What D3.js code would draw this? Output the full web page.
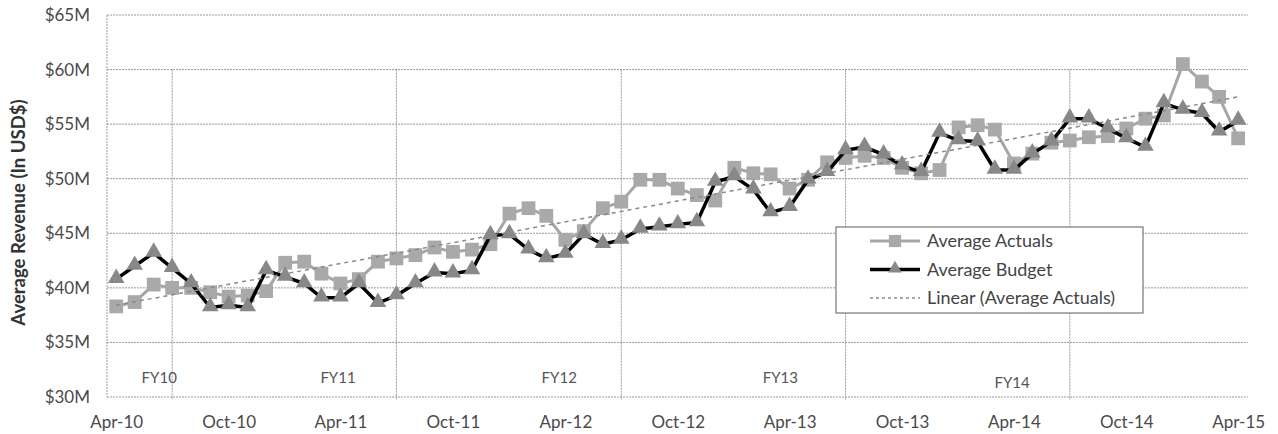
<!DOCTYPE html>
<html>
<head>
<meta charset="utf-8">
<script src="https://cdn.jsdelivr.net/npm/d3@7"></script>
<style>
  body { margin: 0; background: #fff; }
  text { font-family: Lato, "Noto Sans", sans-serif; fill: #4a4a4a; }
</style>
</head>
<body>
<div id="chart"></div>
<script>
// Monthly averages, Apr-10 .. Apr-15 ($M)
var averageActuals = [
  38.3, 38.7, 40.3, 40.0, 40.0, 39.6, 39.2, 39.3, 39.7, 42.3, 42.4, 41.3,
  40.4, 40.8, 42.4, 42.7, 43.0, 43.7, 43.3, 43.5, 44.0, 46.8, 47.3, 46.6,
  44.4, 45.2, 47.3, 47.9, 49.9, 49.9, 49.1, 48.5, 48.0, 51.0, 50.5, 50.4,
  49.1, 49.9, 51.5, 51.9, 52.1, 51.9, 51.0, 50.5, 50.8, 54.7, 54.9, 54.5,
  51.4, 52.3, 53.3, 53.5, 53.8, 53.9, 54.6, 55.5, 55.8, 60.5, 58.9, 57.5,
  53.7
];
var averageBudget = [
  40.8, 42.0, 43.2, 41.8, 40.4, 38.2, 38.4, 38.2, 41.6, 41.0, 40.4, 39.1,
  39.1, 40.4, 38.6, 39.3, 40.4, 41.4, 41.3, 41.6, 44.8, 44.9, 43.5, 42.7,
  43.1, 44.9, 44.0, 44.4, 45.4, 45.6, 45.8, 46.0, 49.7, 50.2, 49.0, 46.9,
  47.4, 49.9, 50.6, 52.6, 52.9, 52.2, 51.2, 50.6, 54.2, 53.5, 53.4, 50.8,
  50.8, 52.3, 53.4, 55.5, 55.5, 54.6, 53.7, 52.9, 56.9, 56.3, 56.0, 54.3,
  55.3
];
var months = d3.timeMonth.range(new Date(2010, 3, 1), new Date(2015, 4, 1));

var xTickDates = [
  new Date(2010, 3, 1), new Date(2010, 9, 1), new Date(2011, 3, 1), new Date(2011, 9, 1),
  new Date(2012, 3, 1), new Date(2012, 9, 1), new Date(2013, 3, 1), new Date(2013, 9, 1),
  new Date(2014, 3, 1), new Date(2014, 9, 1), new Date(2015, 3, 1)
];
var xTickLabels = ["Apr-10", "Oct-10", "Apr-11", "Oct-11", "Apr-12", "Oct-12",
                   "Apr-13", "Oct-13", "Apr-14", "Oct-14", "Apr-15"];
var yTickValues = [30, 35, 40, 45, 50, 55, 60, 65];
var yTickLabels = ["$30M", "$35M", "$40M", "$45M", "$50M", "$55M", "$60M", "$65M"];

// fiscal year boundaries (July) and labels
var fyStarts = [new Date(2010, 6, 1), new Date(2011, 6, 1), new Date(2012, 6, 1),
                new Date(2013, 6, 1), new Date(2014, 6, 1)];
var fyLabels = ["FY10", "FY11", "FY12", "FY13", "FY14"];
var fyLabelDates = [new Date(2010, 5, 10), new Date(2011, 2, 28), new Date(2012, 2, 22),
                    new Date(2013, 2, 17), new Date(2014, 2, 29)];
var fyLabelLevel = [31.75, 31.75, 31.8, 31.8, 31.35];

var legendLabels = ["Average Actuals", "Average Budget", "Linear (Average Actuals)"];

var svgWidth = 1278;
var svgHeight = 434;
var margin = { top: 15, right: 30, bottom: 37, left: 107 };
var width = svgWidth - margin.left - margin.right;
var height = svgHeight - margin.top - margin.bottom;

var svg = d3.select("#chart")
  .append("svg")
  .attr("width", svgWidth)
  .attr("height", svgHeight);

var chartGroup = svg.append("g")
  .attr("transform", `translate(${margin.left}, ${margin.top})`);

var xScale = d3.scaleTime()
  .domain([new Date(2010, 2, 17), new Date(2015, 3, 17)])
  .range([0, width]);

var yScale = d3.scaleLinear()
  .domain([30, 65])
  .range([height, 0]);

// horizontal gridlines
chartGroup.append("g")
  .selectAll("line")
  .data(yTickValues)
  .enter()
  .append("line")
  .attr("x1", 0)
  .attr("x2", width)
  .attr("y1", d => yScale(d))
  .attr("y2", d => yScale(d))
  .attr("stroke", "#9a9a9a")
  .attr("stroke-width", 1)
  .attr("stroke-dasharray", "2,1");

// left axis line
chartGroup.append("line")
  .attr("x1", 0).attr("x2", 0)
  .attr("y1", 0).attr("y2", height)
  .attr("stroke", "#9a9a9a")
  .attr("stroke-dasharray", "2,1");

// fiscal year dividers
chartGroup.append("g")
  .selectAll("line")
  .data(fyStarts)
  .enter()
  .append("line")
  .attr("x1", d => xScale(d))
  .attr("x2", d => xScale(d))
  .attr("y1", yScale(60))
  .attr("y2", yScale(30) + 3)
  .attr("stroke", "#9a9a9a")
  .attr("stroke-dasharray", "2,1");

chartGroup.append("g")
  .selectAll("text")
  .data(fyLabels)
  .enter()
  .append("text")
  .attr("x", (d, i) => xScale(fyLabelDates[i]))
  .attr("y", (d, i) => yScale(fyLabelLevel[i]))
  .attr("text-anchor", "middle")
  .attr("dy", "0.35em")
  .style("font-size", "15px")
  .style("fill", "#555")
  .text(d => d);

// axes
var bottomAxis = d3.axisBottom(xScale)
  .tickValues(xTickDates)
  .tickFormat((d, i) => xTickLabels[i])
  .tickSize(0)
  .tickPadding(19);

var leftAxis = d3.axisLeft(yScale)
  .tickValues(yTickValues)
  .tickFormat((d, i) => yTickLabels[i])
  .tickSize(0)
  .tickPadding(17);

var xAxisGroup = chartGroup.append("g")
  .attr("transform", `translate(0, ${height})`)
  .call(bottomAxis);
var yAxisGroup = chartGroup.append("g").call(leftAxis);

[xAxisGroup, yAxisGroup].forEach(function(g) {
  g.select(".domain").remove();
  g.selectAll("text")
    .style("font-family", "Lato, 'Noto Sans', sans-serif")
    .style("font-size", "17px")
    .style("fill", "#4a4a4a");
});

chartGroup.append("text")
  .attr("transform", "rotate(-90)")
  .attr("x", 0 - (yScale(46.9)))
  .attr("y", 0 - margin.left + 19)
  .attr("dy", "0.35em")
  .attr("text-anchor", "middle")
  .style("font-size", "18.5px")
  .style("font-weight", "bold")
  .style("fill", "#333")
  .text("Average Revenue (In USD$)");

// series
var lineGen = d3.line()
  .x(d => xScale(d.date))
  .y(d => yScale(d.value));

var actualsData = months.map((m, i) => ({ date: m, value: averageActuals[i] }));
var budgetData = months.map((m, i) => ({ date: m, value: averageBudget[i] }));

chartGroup.append("path")
  .datum(actualsData)
  .attr("d", lineGen)
  .attr("fill", "none")
  .attr("stroke", "#a6a6a6")
  .attr("stroke-width", 3);

chartGroup.selectAll(".actualMark")
  .data(actualsData)
  .enter()
  .append("path")
  .attr("class", "actualMark")
  .attr("transform", d => `translate(${xScale(d.date)}, ${yScale(d.value)})`)
  .attr("d", d3.symbol().type(d3.symbolSquare).size(190))
  .attr("fill", "#a9a9a9");

chartGroup.append("path")
  .datum(budgetData)
  .attr("d", lineGen)
  .attr("fill", "none")
  .attr("stroke", "#000")
  .attr("stroke-width", 3.5)
  .attr("stroke-linejoin", "round");

chartGroup.selectAll(".budgetMark")
  .data(budgetData)
  .enter()
  .append("path")
  .attr("class", "budgetMark")
  .attr("transform", d => `translate(${xScale(d.date)}, ${yScale(d.value) - 1})`)
  .attr("d", d3.symbol().type(d3.symbolTriangle).size(120))
  .attr("fill", "#888");

// linear trend of actuals (least squares over month index)
var n = averageActuals.length;
var meanX = d3.mean(averageActuals, (d, i) => i);
var meanY = d3.mean(averageActuals);
var slope = d3.sum(averageActuals, (d, i) => (i - meanX) * (d - meanY)) /
            d3.sum(averageActuals, (d, i) => (i - meanX) * (i - meanX));
var intercept = meanY - slope * meanX;
var trendData = [
  { date: months[0], value: intercept },
  { date: months[n - 1], value: intercept + slope * (n - 1) }
];

chartGroup.append("path")
  .datum(trendData)
  .attr("d", lineGen)
  .attr("fill", "none")
  .attr("stroke", "#8a8a8a")
  .attr("stroke-width", 1.5)
  .attr("stroke-dasharray", "4,4");

// legend
var legend = svg.append("g")
  .attr("transform", "translate(836, 227)");

legend.append("rect")
  .attr("width", 307)
  .attr("height", 86)
  .attr("fill", "#fff")
  .attr("stroke", "#777")
  .attr("stroke-width", 1.2);

var rows = legend.selectAll(".legendRow")
  .data(legendLabels)
  .enter()
  .append("g")
  .attr("class", "legendRow")
  .attr("transform", (d, i) => `translate(0, ${14 + i * 28.5})`);

rows.append("line")
  .attr("x1", 34).attr("x2", 84)
  .attr("y1", 0).attr("y2", 0)
  .attr("stroke", (d, i) => ["#a6a6a6", "#000", "#8a8a8a"][i])
  .attr("stroke-width", (d, i) => [3, 3.5, 1.5][i])
  .attr("stroke-dasharray", (d, i) => i === 2 ? "3,3" : null);

rows.filter((d, i) => i === 0)
  .append("path")
  .attr("transform", "translate(59, 0)")
  .attr("d", d3.symbol().type(d3.symbolSquare).size(150))
  .attr("fill", "#a9a9a9");

rows.filter((d, i) => i === 1)
  .append("path")
  .attr("transform", "translate(59, -1)")
  .attr("d", d3.symbol().type(d3.symbolTriangle).size(80))
  .attr("fill", "#888");

rows.append("text")
  .attr("x", 91)
  .attr("y", 0)
  .attr("dy", "0.35em")
  .style("font-size", "18px")
  .style("fill", "#444")
  .text(d => d);
</script>
</body>
</html>
